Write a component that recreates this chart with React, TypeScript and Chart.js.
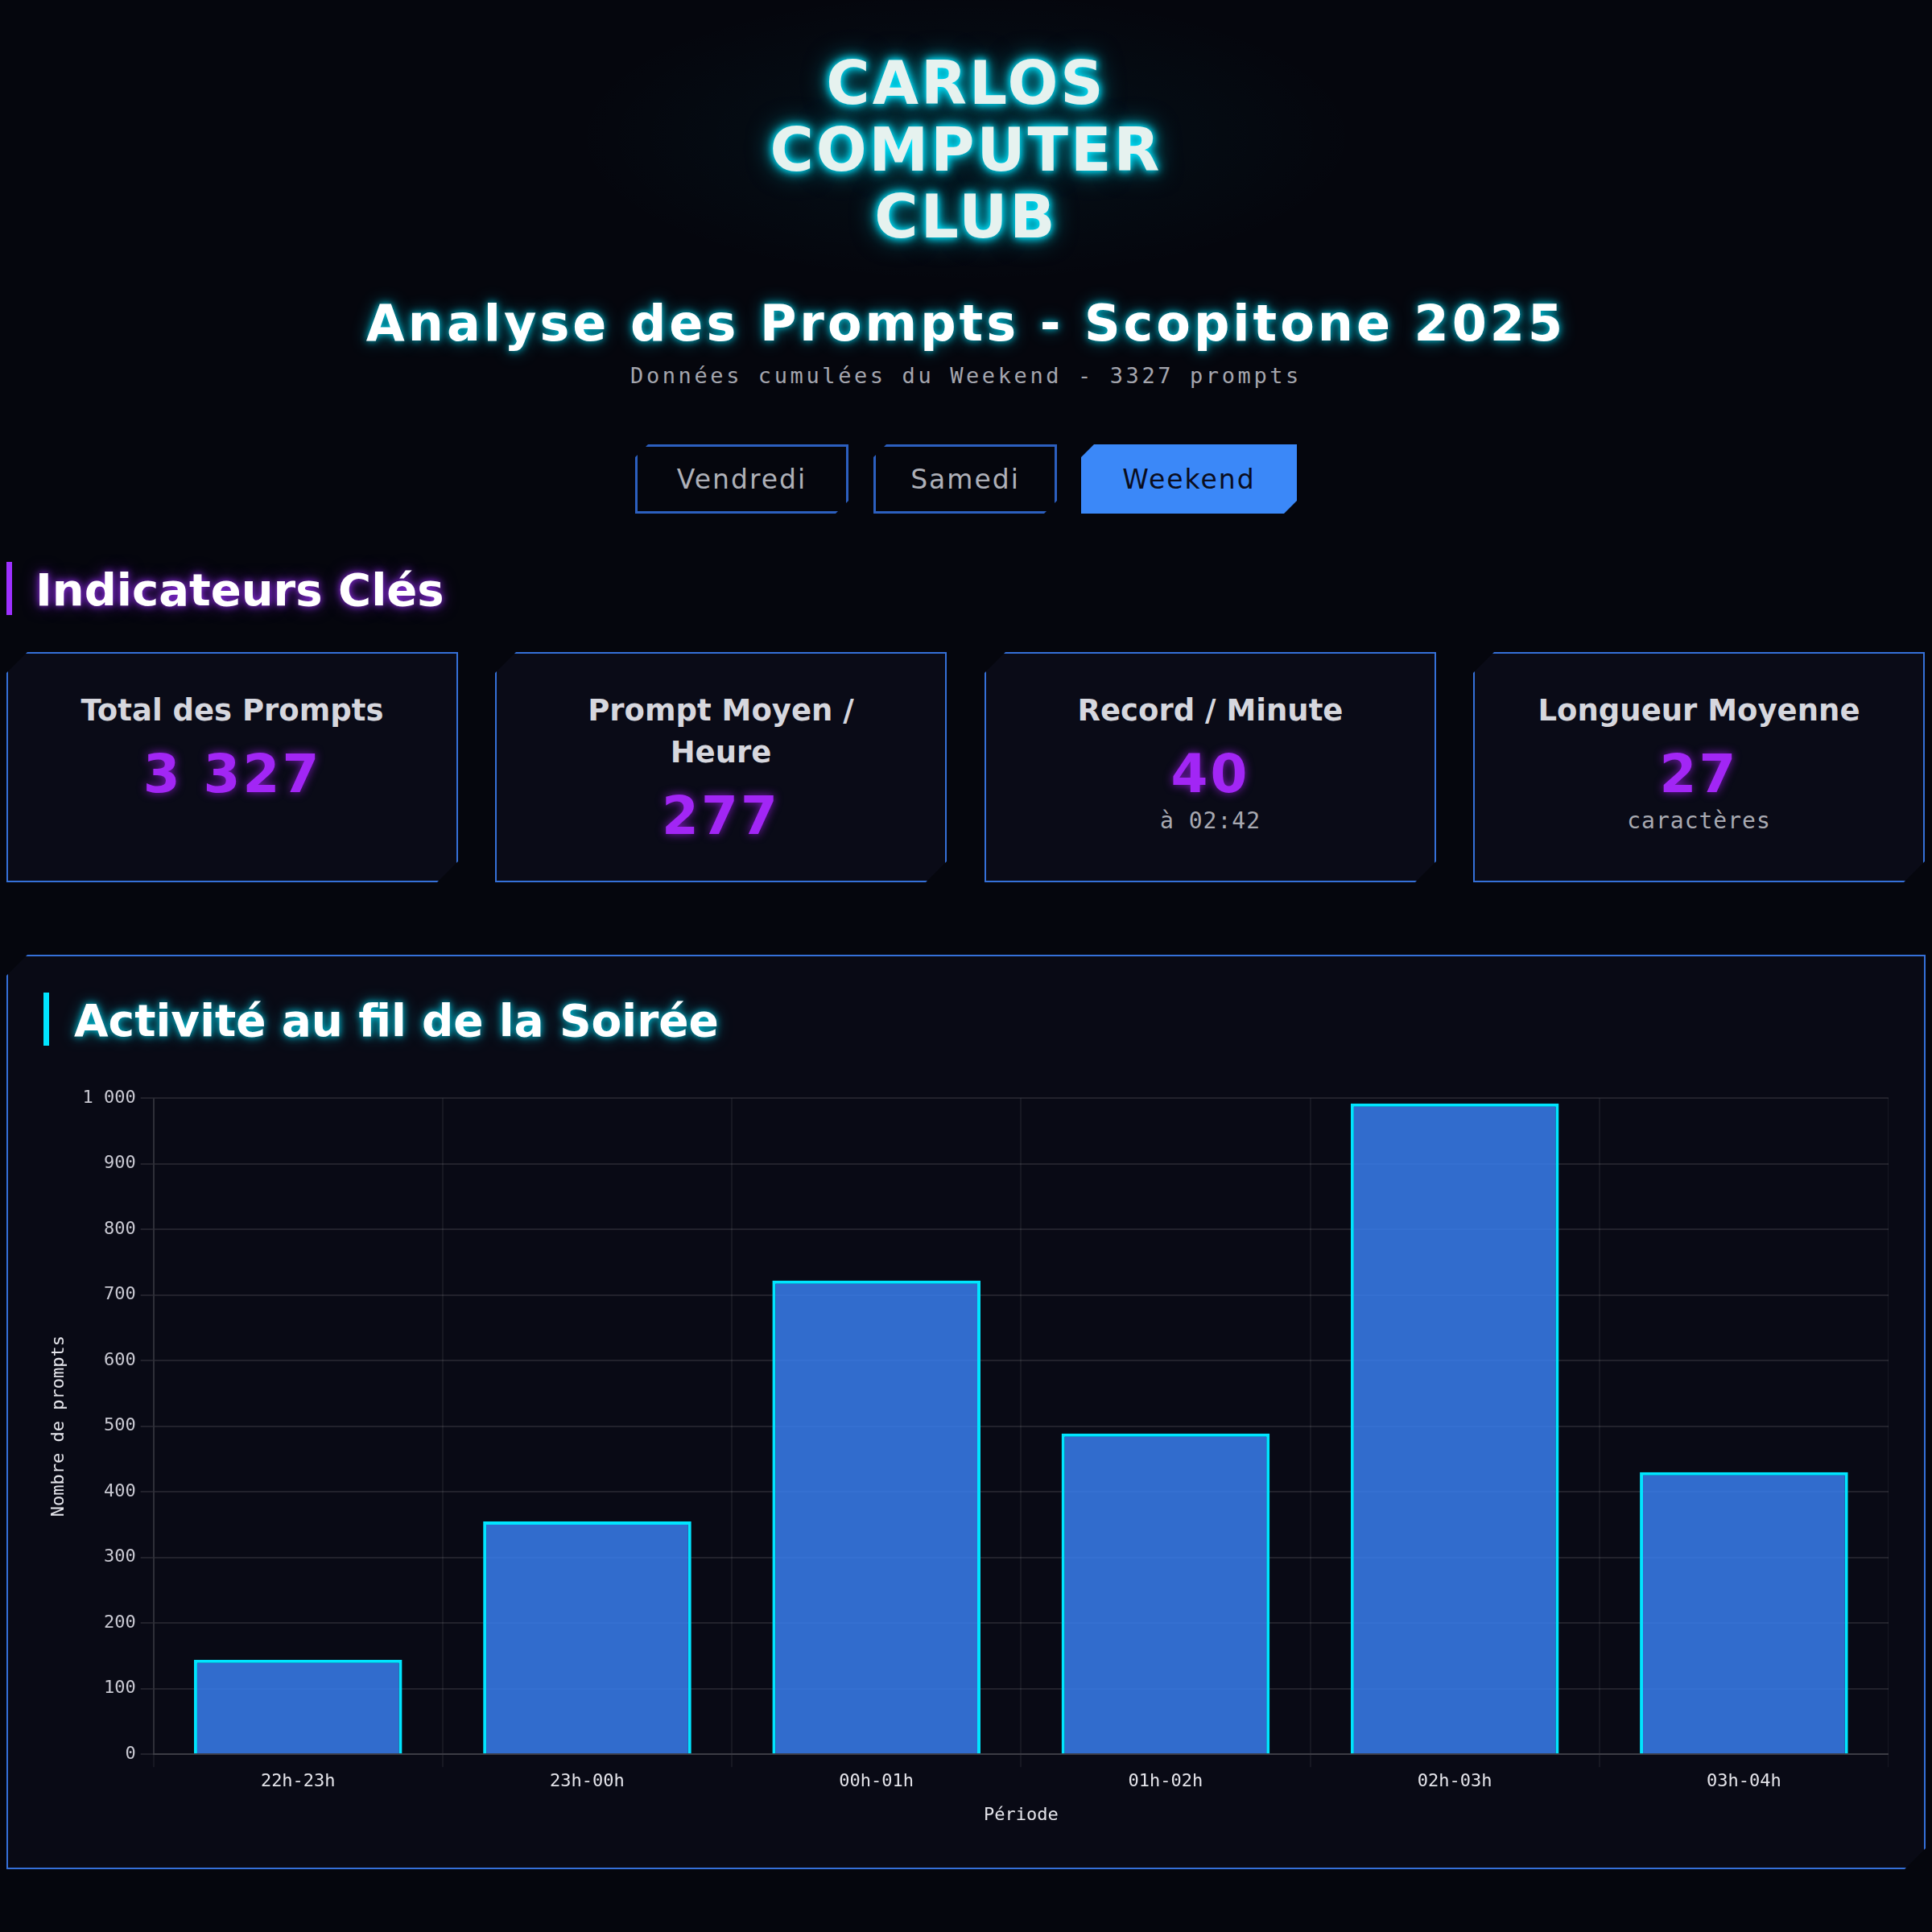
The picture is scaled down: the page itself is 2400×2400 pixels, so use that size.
import React, { useEffect, useRef } from "react";
import { Chart, registerables } from "chart.js";

Chart.register(...registerables);

// ---------- data ----------
const periods = ["22h-23h", "23h-00h", "00h-01h", "01h-02h", "02h-03h", "03h-04h"];
const promptCounts = [144, 355, 722, 489, 992, 430];
const yMin = 0;
const yMax = 1000;
const yStep = 100;

const titleLines = ["CARLOS", "COMPUTER", "CLUB"];
const tabs = ["Vendredi", "Samedi", "Weekend"];
const activeTab = "Weekend";
const kpiLabels = ["Total des Prompts", "Prompt Moyen / Heure", "Record / Minute", "Longueur Moyenne"];
const kpiValues = ["3 327", "277", "40", "27"];
const kpiSubs = ["", "", "à 02:42", "caractères"];

// ---------- styles ----------
const HEAD = '"DejaVu Sans", "Noto Sans", sans-serif';
const MONO = '"DejaVu Sans Mono", "Liberation Mono", monospace';
const PAGE_BG = "#05060d";
const PANEL_BG = "#0a0b17";
const BLUE = "#3570d8";
const CYAN = "#00e5ff";
const PURPLE = "#a226f5";

const chamfer = (c: number) =>
  `polygon(${c}px 0, 100% 0, 100% calc(100% - ${c}px), calc(100% - ${c}px) 100%, 0 100%, 0 ${c}px)`;

const tabBoxes = [
  { left: 789, width: 265 },
  { left: 1085, width: 228 },
  { left: 1343, width: 268 },
];
const cardLefts = [8, 615, 1223, 1830];

export default function App() {
  const canvasRef = useRef<HTMLCanvasElement | null>(null);

  useEffect(() => {
    const el = canvasRef.current;
    if (!el) return;
    const chart = new Chart(el, {
      type: "bar",
      data: {
        labels: periods,
        datasets: [
          {
            label: "Prompts",
            data: promptCounts,
            backgroundColor: "rgba(59,130,246,0.82)",
            borderColor: CYAN,
            borderWidth: 4,
          },
        ],
      },
      options: {
        responsive: false,
        animation: false,
        devicePixelRatio: 1,
        locale: "fr-FR",
        layout: { padding: 0 },
        plugins: {
          legend: { display: false },
          tooltip: { enabled: false },
        },
        scales: {
          x: {
            grid: { color: "rgba(255,255,255,0.06)", lineWidth: 2, tickLength: 16, offset: true },
            border: { color: "rgba(255,255,255,0.12)", width: 2 },
            ticks: { color: "#e4e4ea", font: { family: MONO, size: 22 }, padding: 5 },
            title: {
              display: true,
              text: "Période",
              color: "#e4e4ea",
              font: { family: MONO, size: 22 },
              padding: { top: 10, bottom: 8 },
            },
          },
          y: {
            min: yMin,
            max: yMax,
            grid: { color: "rgba(255,255,255,0.1)", lineWidth: 2, tickLength: 16 },
            border: { color: "rgba(255,255,255,0.1)", width: 2 },
            ticks: { stepSize: yStep, color: "#c9c9d2", font: { family: MONO, size: 22 }, padding: 6 },
            title: {
              display: true,
              text: "Nombre de prompts",
              color: "#e4e4ea",
              font: { family: MONO, size: 22 },
              padding: { top: 8, bottom: 10 },
            },
          },
        },
      },
    });
    return () => chart.destroy();
  }, []);

  const abs = (o: React.CSSProperties): React.CSSProperties => ({ position: "absolute", ...o });

  return (
    <div
      style={abs({
        left: 0,
        top: 0,
        width: 2400,
        height: 2400,
        overflow: "hidden",
        background: `radial-gradient(ellipse 700px 260px at 1200px 170px, rgba(0,229,255,0.05), rgba(0,0,0,0) 70%), ${PAGE_BG}`,
        fontFamily: HEAD,
      })}
    >
      {/* Club title */}
      <div
        style={abs({
          left: 0,
          top: 62,
          width: 2400,
          textAlign: "center",
          fontSize: 74,
          lineHeight: "83px",
          fontWeight: 700,
          letterSpacing: 3,
          color: "#e6f2ef",
          textShadow: `0 0 8px ${CYAN}, 0 0 16px ${CYAN}, 0 0 32px rgba(0,229,255,0.55)`,
        })}
      >
        {titleLines.map((l) => (
          <div key={l}>{l}</div>
        ))}
      </div>

      {/* Main heading */}
      <div
        style={abs({
          left: 0,
          top: 362,
          width: 2400,
          textAlign: "center",
          fontSize: 62,
          lineHeight: "80px",
          fontWeight: 700,
          letterSpacing: 4,
          color: "#ffffff",
          textShadow: "0 0 10px rgba(0,229,255,0.85), 0 0 22px rgba(0,229,255,0.45)",
        })}
      >
        Analyse des Prompts - Scopitone 2025
      </div>

      {/* Subtitle */}
      <div
        style={abs({
          left: 0,
          top: 449,
          width: 2400,
          textAlign: "center",
          fontFamily: MONO,
          fontSize: 27,
          lineHeight: "36px",
          letterSpacing: 3.6,
          color: "#a4a5ad",
        })}
      >
        Données cumulées du Weekend - 3327 prompts
      </div>

      {/* Tabs */}
      {tabs.map((t, i) => {
        const active = t === activeTab;
        return (
          <div
            key={t}
            style={abs({
              left: tabBoxes[i].left,
              top: 552,
              width: tabBoxes[i].width,
              height: 86,
              boxSizing: "border-box",
              border: active ? "none" : "3px solid #2c5fbf",
              background: active ? "#3b88f8" : "transparent",
              clipPath: chamfer(16),
              display: "flex",
              alignItems: "center",
              justifyContent: "center",
              fontSize: 33,
              letterSpacing: 2,
              color: active ? "#0a0d1e" : "#aeb0b8",
            })}
          >
            {t}
          </div>
        );
      })}

      {/* Indicateurs Clés heading */}
      <div style={abs({ left: 8, top: 698, width: 7, height: 66, background: "#9d30ff" })} />
      <div
        style={abs({
          left: 44,
          top: 698,
          fontSize: 56,
          lineHeight: "70px",
          fontWeight: 700,
          color: "#ffffff",
          whiteSpace: "nowrap",
          textShadow: "0 0 10px rgba(157,48,255,0.9), 0 0 20px rgba(157,48,255,0.5)",
        })}
      >
        Indicateurs Clés
      </div>

      {/* KPI cards */}
      {kpiLabels.map((lab, i) => (
        <div
          key={lab}
          style={abs({
            left: cardLefts[i],
            top: 810,
            width: 561,
            height: 286,
            boxSizing: "border-box",
            border: `2px solid ${BLUE}`,
            background: PANEL_BG,
            clipPath: chamfer(26),
            paddingTop: 45,
            paddingLeft: 60,
            paddingRight: 60,
            display: "flex",
            flexDirection: "column",
            alignItems: "center",
            textAlign: "center",
          })}
        >
          <div style={{ fontSize: 37, lineHeight: "52px", fontWeight: 700, color: "#d6d7de" }}>{lab}</div>
          <div
            style={{
              marginTop: 13,
              fontSize: 66,
              lineHeight: "80px",
              fontWeight: 700,
              letterSpacing: 3,
              color: PURPLE,
              textShadow: "0 0 12px rgba(160,32,240,0.75)",
              whiteSpace: "nowrap",
            }}
          >
            {kpiValues[i]}
          </div>
          {kpiSubs[i] ? (
            <div
              style={{
                fontFamily: MONO,
                fontSize: 28,
                lineHeight: "36px",
                letterSpacing: 1,
                color: "#a8a9b1",
              }}
            >
              {kpiSubs[i]}
            </div>
          ) : null}
        </div>
      ))}

      {/* Chart section */}
      <div
        style={abs({
          left: 8,
          top: 1186,
          width: 2384,
          height: 1136,
          boxSizing: "border-box",
          border: `2px solid ${BLUE}`,
          background: "#090a15",
          clipPath: chamfer(26),
        })}
      />
      <div style={abs({ left: 54, top: 1233, width: 7, height: 66, background: CYAN })} />
      <div
        style={abs({
          left: 92,
          top: 1233,
          fontSize: 55,
          lineHeight: "70px",
          fontWeight: 700,
          color: "#ffffff",
          whiteSpace: "nowrap",
          textShadow: "0 0 10px rgba(0,229,255,0.85), 0 0 20px rgba(0,229,255,0.4)",
        })}
      >
        Activité au fil de la Soirée
      </div>
      <div style={abs({ left: 52, top: 1345, width: 2294, height: 931 })}>
        <canvas ref={canvasRef} width={2294} height={931} style={{ width: 2294, height: 931, display: "block" }} />
      </div>
    </div>
  );
}
